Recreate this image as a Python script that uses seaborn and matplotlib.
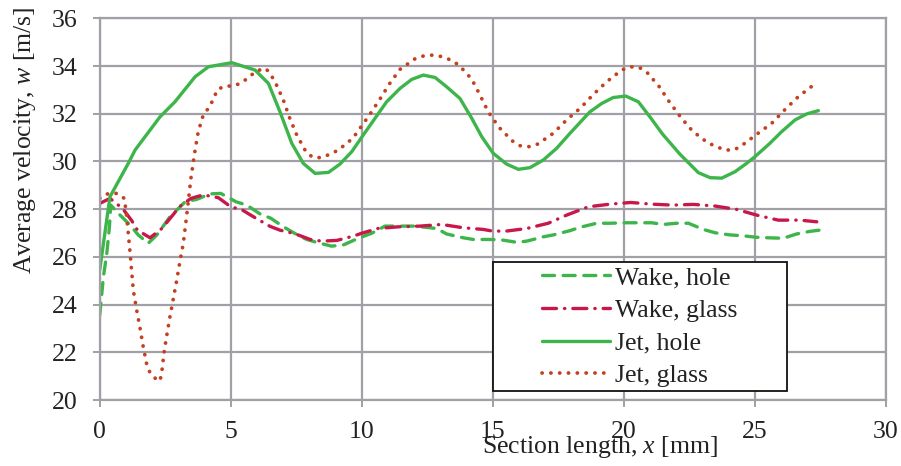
import matplotlib
matplotlib.use("Agg")
import matplotlib.pyplot as plt
import seaborn as sns
import pandas as pd
from matplotlib.patches import Rectangle

# ---------------- data ----------------
wake_hole_x = [0, 0.14, 0.27, 0.37, 0.42, 0.65, 1.16, 1.47, 1.85, 2.18, 2.68, 3.26, 3.70, 4.21, 4.62,
               5.20, 5.61, 6.12, 6.53, 7.01, 7.45, 7.90, 8.34, 8.85, 9.30, 9.87, 10.38, 10.89, 11.34,
               12.03, 12.86, 13.24, 13.88, 14.26, 14.90, 15.34, 15.92, 16.30, 16.93, 17.31, 17.95,
               18.33, 18.97, 19.48, 20.11, 20.50, 21.07, 21.51, 22.02, 22.47, 23.04, 23.49, 24.06,
               24.50, 25.08, 25.52, 26.09, 26.60, 27.11, 27.47]
wake_hole_v = [23.56, 25.17, 26.15, 27.26, 28.17, 27.89, 27.33, 26.92, 26.57, 26.92, 27.68, 28.31, 28.41,
               28.64, 28.66, 28.31, 28.17, 27.80, 27.62, 27.26, 26.98, 26.73, 26.59, 26.45, 26.50,
               26.78, 26.99, 27.29, 27.29, 27.29, 27.19, 26.96, 26.80, 26.73, 26.73, 26.71, 26.61,
               26.66, 26.84, 26.92, 27.10, 27.24, 27.41, 27.41, 27.43, 27.43, 27.43, 27.36, 27.41,
               27.41, 27.15, 27.01, 26.92, 26.89, 26.82, 26.80, 26.78, 26.96, 27.07, 27.12]

wake_glass_x = [0, 0.39, 0.87, 1.22, 1.44, 1.92, 2.37, 2.81, 3.04, 3.48, 3.95, 4.53, 5.00, 5.42, 5.93,
                6.50, 6.88, 7.45, 8.03, 8.47, 9.05, 9.68, 10.00, 10.61, 11.40, 12.23, 13.05, 13.88,
                14.64, 15.00, 15.51, 16.30, 17.12, 17.82, 18.65, 19.48, 20.27, 21.07, 21.87, 22.66,
                23.49, 24.31, 25.08, 25.90, 26.73, 27.37]
wake_glass_v = [28.24, 28.45, 28.03, 27.52, 27.12, 26.80, 27.19, 27.78, 28.10, 28.45, 28.60, 28.48, 28.10,
                27.98, 27.64, 27.28, 27.12, 26.97, 26.73, 26.66, 26.69, 26.87, 26.99, 27.19, 27.26,
                27.29, 27.36, 27.22, 27.15, 27.08, 27.08, 27.19, 27.41, 27.75, 28.10, 28.21, 28.28,
                28.21, 28.17, 28.20, 28.13, 27.99, 27.75, 27.54, 27.54, 27.47]

jet_hole_x = [0, 0.39, 1.09, 1.35, 2.30, 2.87, 3.64, 4.15, 5.04, 5.93, 6.44, 6.88, 7.33, 7.77, 8.22,
              8.73, 9.17, 9.62, 10.06, 10.95, 11.46, 11.91, 12.35, 12.80, 13.24, 13.75, 14.20, 14.58,
              15.02, 15.53, 15.98, 16.42, 16.93, 17.44, 17.95, 18.71, 19.16, 19.60, 20.08, 20.56,
              21.00, 21.48, 22.15, 22.85, 23.30, 23.74, 24.25, 24.69, 25.01, 25.58, 26.03, 26.54,
              26.98, 27.43]
jet_hole_v = [25.45, 28.52, 29.92, 30.48, 31.87, 32.50, 33.55, 33.97, 34.14, 33.83, 33.27, 32.08, 30.76,
              29.92, 29.50, 29.54, 29.89, 30.41, 31.11, 32.50, 33.06, 33.44, 33.62, 33.52, 33.13,
              32.64, 31.81, 31.04, 30.34, 29.89, 29.67, 29.74, 30.06, 30.55, 31.18, 32.08, 32.43,
              32.68, 32.74, 32.50, 31.87, 31.15, 30.30, 29.53, 29.32, 29.30, 29.57, 29.92, 30.20,
              30.76, 31.25, 31.74, 31.99, 32.13]

jet_glass_x = [0, 0.33, 0.65, 0.94, 1.03, 1.16, 1.28, 1.41, 1.54, 1.66, 1.79, 1.92, 2.18, 2.30, 2.37,
               2.45, 2.56, 2.68, 2.81, 2.94, 3.06, 3.19, 3.32, 3.48, 3.64, 3.76, 3.95, 4.21, 4.50,
               4.78, 5.10, 5.42, 5.71, 5.99, 6.34, 6.54, 6.72, 7.01, 7.24, 7.52, 7.87, 8.13, 8.43,
               8.79, 9.11, 9.66, 10.29, 10.67, 11.05, 11.46, 12.03, 12.38, 12.73, 13.08, 13.40,
               13.71, 14.20, 14.52, 14.83, 15.24, 15.75, 16.04, 16.40, 16.72, 17.31, 17.82, 18.36,
               18.84, 19.35, 19.92, 20.24, 20.60, 20.90, 21.36, 21.74, 22.18, 22.63, 23.21, 23.85,
               24.21, 24.51, 25.08, 25.65, 26.16, 26.66, 27.24]
jet_glass_v = [28.45, 28.66, 28.66, 28.45, 27.68, 26.15, 24.61, 23.77, 23.00, 22.23, 21.51, 21.14, 20.84,
               20.80, 21.19, 21.96, 22.72, 23.49, 24.26, 25.03, 25.80, 26.57, 27.75, 29.29, 30.48,
               31.25, 31.94, 32.32, 33.02, 33.16, 33.16, 33.30, 33.55, 33.80, 33.90, 33.62, 33.27,
               32.57, 31.85, 31.11, 30.41, 30.17, 30.16, 30.30, 30.48, 30.97, 31.94, 32.57, 33.24,
               33.86, 34.30, 34.43, 34.46, 34.39, 34.25, 34.04, 33.45, 32.77, 32.08, 31.43, 30.86,
               30.66, 30.62, 30.73, 31.18, 31.74, 32.25, 32.81, 33.34, 33.83, 33.97, 33.94, 33.72,
               33.13, 32.50, 31.85, 31.27, 30.78, 30.48, 30.48, 30.67, 31.14, 31.60, 32.18, 32.71,
               33.20]

series_labels = ["Wake, hole", "Wake, glass", "Jet, hole", "Jet, glass"]
x_ticks = [0, 5, 10, 15, 20, 25, 30]
y_ticks = [20, 22, 24, 26, 28, 30, 32, 34, 36]

# ---------------- style ----------------
sns.set_theme(style="white")
plt.rcParams["font.family"] = ["Liberation Serif", "DejaVu Serif"]
plt.rcParams["mathtext.fontset"] = "custom"
plt.rcParams["mathtext.rm"] = "Liberation Serif"
plt.rcParams["mathtext.it"] = "Liberation Serif:italic"

GREEN = "#3DB54A"
CRIMSON = "#C8184A"
ORANGE = "#C4411F"
GRID = "#A0A0A6"
FS = 18.5

fig, ax = plt.subplots(figsize=(9.01, 4.66), dpi=100)
fig.subplots_adjust(left=0.1107, right=0.983, top=0.9607, bottom=0.1416)

df_wh = pd.DataFrame({"x": wake_hole_x, "v": wake_hole_v})
df_wg = pd.DataFrame({"x": wake_glass_x, "v": wake_glass_v})
df_jh = pd.DataFrame({"x": jet_hole_x, "v": jet_hole_v})
df_jg = pd.DataFrame({"x": jet_glass_x, "v": jet_glass_v})

lw = 2.4
sns.lineplot(data=df_wh, x="x", y="v", ax=ax, color=GREEN, lw=lw, sort=False,
             linestyle=(0, (3.6, 2.6)), dash_capstyle="round", label=series_labels[0])
sns.lineplot(data=df_wg, x="x", y="v", ax=ax, color=CRIMSON, lw=lw, sort=False,
             linestyle=(0, (4.2, 2.4, 0.1, 2.4)), dash_capstyle="round", label=series_labels[1])
sns.lineplot(data=df_jh, x="x", y="v", ax=ax, color=GREEN, lw=lw, sort=False,
             linestyle="-", solid_capstyle="round", label=series_labels[2])
sns.lineplot(data=df_jg, x="x", y="v", ax=ax, color=ORANGE, lw=2.7, sort=False,
             linestyle=(0, (0.05, 2.3)), dash_capstyle="round", label=series_labels[3])

ax.set_xlim(0, 30)
ax.set_ylim(20, 36)
ax.set_xticks(x_ticks)
ax.set_yticks(y_ticks)
ax.grid(True, color=GRID, lw=1.6)
ax.set_axisbelow(True)
for s in ax.spines.values():
    s.set_color(GRID)
    s.set_linewidth(1.6)
ax.tick_params(axis="both", which="both", direction="out", length=5, width=1.4,
               color=GRID, labelsize=FS, labelcolor="#222222",
               left=True, bottom=True)
ax.tick_params(axis="x", pad=10)
ax.tick_params(axis="y", pad=11)

ax.set_xlabel(r"Section length, $x$ [mm]", fontsize=FS, color="#222222")
ax.set_ylabel(r"Average velocity, $w$ [m/s]", fontsize=FS, color="#222222")
ax.xaxis.set_label_coords(0.6365, -0.088)
ax.yaxis.set_label_coords(-0.0785, 0.681)

# legend box
rect = Rectangle((0.5, 0.0236), 0.374, 0.337, transform=ax.transAxes,
                 facecolor="white", edgecolor="#111111", lw=1.3, zorder=5)
ax.add_patch(rect)
leg = ax.legend(loc="center", bbox_to_anchor=(0.687, 0.192), frameon=False,
                fontsize=FS, handlelength=2.65, handletextpad=0.22, labelspacing=0.38,
                borderpad=0.2)
leg.set_zorder(6)
for t in leg.get_texts():
    t.set_color("#222222")

fig.savefig("out.png", dpi=100)
